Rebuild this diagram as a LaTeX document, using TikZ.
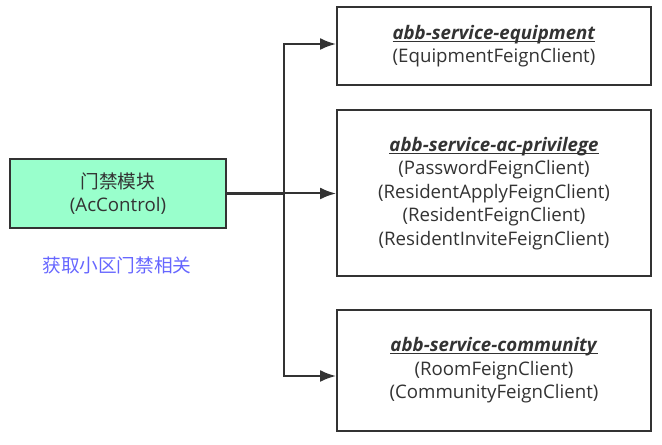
\documentclass[tikz,border=0pt]{standalone}
\usepackage{fontspec}
\setmainfont{Open Sans}
\newfontfamily\cjk{Noto Sans CJK SC}
\usepackage{tikz}
\usetikzlibrary{arrows.meta}
\usepackage{xcolor}
\definecolor{linegray}{RGB}{51,51,51}
\definecolor{mint}{RGB}{153,255,204}
\definecolor{noteblue}{RGB}{102,102,255}
\tikzset{
  svcbox/.style={draw=linegray, line width=1.5pt, fill=white, inner sep=0pt, align=center, font=\fontsize{14}{17.6}\selectfont, text=black!80},
  feed/.style={draw=linegray, line width=1.5pt, -{Latex[length=12pt,width=9pt]}}
}
\newlength\svcwd
\newcommand{\svcname}[1]{\settowidth{\svcwd}{\textbf{\textit{#1}}}\textbf{\textit{#1}}\hspace{-\svcwd}\rule[-1.9pt]{\svcwd}{0.8pt}}

\begin{document}
\begin{tikzpicture}[x=0.75pt,y=0.75pt,yscale=-1,xscale=1]
\useasboundingbox (0,0) rectangle (662,445);

%Shape: Rectangle [id:ac]
\node [svcbox, fill=mint, minimum width=216*0.75pt, minimum height=69*0.75pt] (ac) at (118,193.5) {{\cjk 门禁模块}\\(AcControl)};
% Text Node
\node [font=\cjk\fontsize{14}{17}\selectfont, text=noteblue, inner sep=0.75pt] (note) at (117,265) {获取小区门禁相关};

%Shape: Rectangle [id:eq]
\node [svcbox, minimum width=314*0.75pt, minimum height=78*0.75pt] (eq) at (494,46) {\svcname{abb-service-equipment}\\(EquipmentFeignClient)};
%Shape: Rectangle [id:priv]
\node [svcbox, minimum width=314*0.75pt, minimum height=166*0.75pt] (priv) at (494,193.5) {\svcname{abb-service-ac-privilege}\\(PasswordFeignClient)\\(ResidentApplyFeignClient)\\(ResidentFeignClient)\\(ResidentInviteFeignClient)};
%Shape: Rectangle [id:com]
\node [svcbox, minimum width=314*0.75pt, minimum height=121*0.75pt] (com) at (494,370.5) {\svcname{abb-service-community}\\(RoomFeignClient)\\(CommunityFeignClient)};

%Straight Lines [id:trunk]
\coordinate (trunk) at (284,193.5);
\draw [draw=linegray, line width=2.8pt] (ac.east) -- (trunk);
\draw [feed] (trunk) |- ([yshift=-2*0.75pt]eq.west);
\draw [feed] (trunk) -- (priv.west);
\draw [feed] (trunk) |- ([yshift=5.5*0.75pt]com.west);

\end{tikzpicture}
\end{document}
